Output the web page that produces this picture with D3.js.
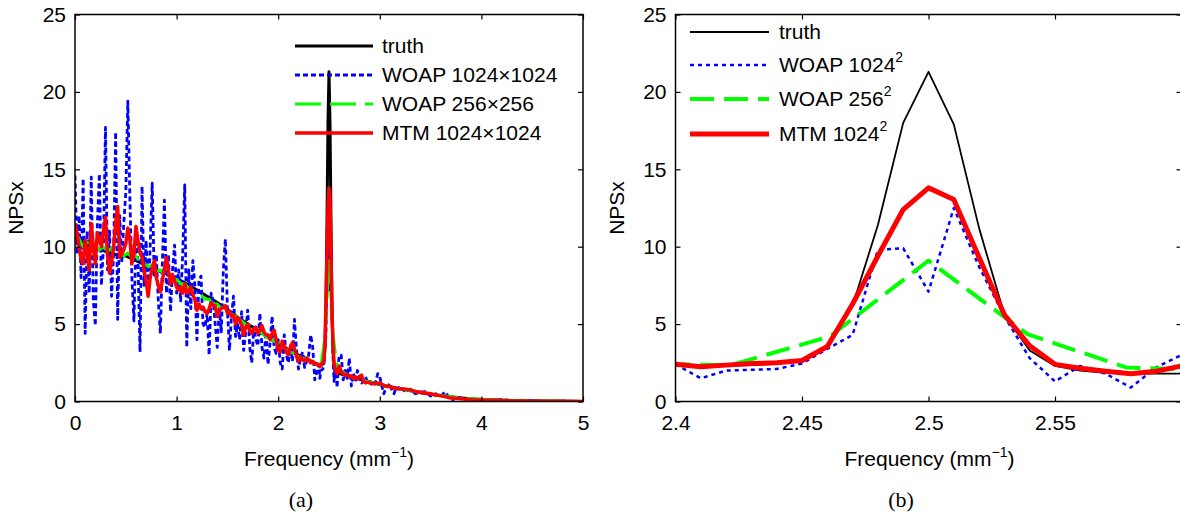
<!DOCTYPE html>
<html>
<head>
<meta charset="utf-8">
<script src="https://cdn.jsdelivr.net/npm/d3@7"></script>
<style>
  body { margin: 0; background: #fff; }
  text { font-family: "Liberation Sans", Arial, Helvetica, sans-serif; fill: #000; }
  .caption { font-family: "Liberation Serif", "DejaVu Serif", serif; }
</style>
</head>
<body>
<svg id="chart" width="1180" height="513"></svg>
<script>
// Data
// ==============================
var legendLeft = ["truth", "WOAP 1024\u00d71024", "WOAP 256\u00d7256", "MTM 1024\u00d71024"];
var legendRight = ["truth", "WOAP 1024", "WOAP 256", "MTM 1024"];
var legendRightSup = ["", "2", "2", "2"];
var yTicks = [0, 5, 10, 15, 20, 25];
var xTicksLeft = [0, 1, 2, 3, 4, 5];
var xTicksRight = [2.4, 2.45, 2.5, 2.55];

// sample grid around the peak (1024 grid, ~0.01 mm^-1)
var peakFreq = d3.range(2.40, 2.605, 0.01);
var truthPeak = [2.35, 2.3, 2.3, 2.35, 2.45, 2.6, 3.6, 6.2, 11.4, 18.0, 21.3, 17.9, 11.2, 5.6, 3.3, 2.3, 2.0, 1.85, 1.8, 1.8, 1.8];
var bluePeak = [2.4, 1.5, 2.0, 2.05, 2.1, 2.45, 3.4, 4.3, 9.8, 9.9, 7.1, 12.5, 8.7, 5.5, 2.8, 1.3, 2.3, 1.8, 0.9, 2.2, 3.0];
var redPeak = [2.4, 2.25, 2.35, 2.45, 2.5, 2.65, 3.55, 6.3, 9.4, 12.4, 13.8, 13.05, 9.3, 5.6, 3.6, 2.4, 2.15, 1.95, 1.8, 1.95, 2.3];
var greenPeakFreq = [2.3828, 2.4219, 2.4609, 2.5, 2.5391, 2.5781, 2.6172];
var greenPeak = [2.45, 2.35, 4.2, 9.1, 4.35, 2.2, 2.0];

// low frequency part
var truthLowFreq = d3.range(0, 2.35, 0.1);
var truthLow = [10.6, 10.2, 9.9, 9.7, 9.5, 9.4, 9.1, 8.8, 8.5, 8.25, 7.95, 7.6, 7.2, 6.8, 6.4, 5.95, 5.45, 5.0, 4.6, 4.15, 3.75, 3.35, 3.0, 2.7];

var lowFreq = d3.range(0, 2.39, 0.02);
var blueLow = [
  14.6, 9.5, 12.0, 8.0, 14.4, 4.4, 11.0, 7.0, 14.5, 6.6,
  4.9, 11.5, 14.7, 7.5, 10.0, 17.7, 8.5, 11.0, 6.8, 9.5,
  17.4, 5.3, 12.0, 9.0, 11.5, 13.5, 19.4, 13.2, 8.0, 5.2,
  10.5, 9.0, 3.2, 13.9, 7.5, 10.4, 7.0, 10.0, 14.1, 8.0,
  9.5, 6.5, 4.4, 9.0, 13.0, 7.0, 9.5, 5.8, 8.5, 10.1,
  7.0, 8.5, 6.5, 9.5, 14.0, 3.5, 8.5, 6.0, 9.1, 7.5,
  4.0, 7.8, 8.1, 5.0, 4.8, 5.7, 3.0, 7.0, 6.5, 5.0,
  3.5, 6.0, 4.5, 8.5, 10.5, 6.0, 3.3, 5.5, 6.8, 4.2,
  5.0, 4.0, 5.8, 3.3, 4.5, 5.9, 3.5, 2.5, 4.8, 4.0,
  3.6, 5.7, 3.5, 2.8, 4.5, 2.4, 3.8, 5.5, 3.5, 3.1,
  4.0, 2.5, 2.1, 4.3, 3.0, 2.5, 3.6, 2.6, 5.3, 3.3,
  2.1, 2.8, 3.2, 2.2, 2.6, 3.0, 4.3, 3.5, 1.4, 1.9
];
var redLow = [
  11.5, 10.9, 10.0, 9.2, 8.9, 10.4, 9.5, 8.5, 11.5, 10.0,
  8.9, 10.9, 10.5, 10.0, 11.0, 11.9, 9.5, 8.3, 9.0, 10.0,
  11.5, 12.6, 9.3, 9.5, 9.8, 10.2, 11.2, 10.5, 8.9, 9.5,
  11.3, 10.4, 9.6, 9.3, 8.5, 7.8, 6.8, 8.0, 8.6, 9.1,
  8.0, 7.5, 7.1, 7.8, 8.6, 9.3, 8.4, 7.6, 8.2, 7.8,
  7.4, 7.2, 7.4, 7.0, 7.6, 7.0, 7.1, 7.4, 6.9, 6.6,
  5.9, 6.3, 6.0, 6.1, 5.8, 5.7, 6.0, 6.4, 6.2, 6.2,
  5.5, 5.9, 6.0, 6.1, 6.2, 5.7, 5.8, 5.5, 5.6, 5.0,
  5.4, 5.3, 4.9, 4.3, 4.8, 5.0, 4.6, 4.4, 4.7, 4.8,
  4.4, 4.6, 4.9, 4.5, 4.3, 4.3, 4.0, 4.4, 4.6, 4.0,
  3.3, 3.2, 3.9, 3.6, 3.2, 3.0, 3.5, 3.8, 3.4, 2.9,
  2.6, 2.9, 2.7, 2.6, 2.8, 2.7, 2.5, 2.6, 2.4, 2.4
];

// 256 grid (~0.04 mm^-1)
var greenLowFreq = d3.range(0, 2.33, 0.04);
var greenLow = [
  11.0, 10.5, 10.0, 10.3, 9.9, 10.1, 9.8, 10.0, 9.7, 9.9,
  9.6, 9.7, 9.4, 9.6, 9.3, 9.4, 9.0, 9.0, 8.7, 8.8,
  8.4, 8.5, 8.2, 8.1, 7.9, 7.9, 7.6, 7.6, 7.3, 7.2,
  7.0, 6.9, 6.6, 6.6, 6.3, 6.3, 6.0, 6.0, 5.7, 5.6,
  5.4, 5.2, 5.0, 4.9, 4.7, 4.6, 4.4, 4.2, 4.0, 3.9,
  3.7, 3.5, 3.4, 3.2, 3.1, 2.9, 2.8, 2.7, 2.6
];

// high frequency tails
var truthTailFreq = [2.7, 2.8, 2.9, 3.0, 3.1, 3.2, 3.3, 3.4, 3.5, 3.6, 3.7, 3.8, 3.9, 4.0, 4.2, 4.4, 4.6, 4.8, 5.0];
var truthTail = [1.65, 1.45, 1.28, 1.1, 0.95, 0.82, 0.7, 0.57, 0.46, 0.37, 0.3, 0.23, 0.17, 0.13, 0.08, 0.05, 0.03, 0.01, 0];

var blueTailFreq = [2.62, 2.64, 2.66, 2.68, 2.70, 2.72, 2.74, 2.76, 2.78, 2.80,
  2.82, 2.84, 2.86, 2.88, 2.90, 2.92, 2.94, 2.96, 2.98, 3.00,
  3.02, 3.04, 3.06, 3.08, 3.10, 3.12, 3.14, 3.16, 3.18, 3.20,
  3.25, 3.30, 3.35, 3.40, 3.45, 3.50, 3.55, 3.60,
  3.64, 3.68, 3.72, 3.76, 3.80,
  3.85, 3.90, 3.95, 4.00,
  4.10, 4.20, 4.30, 4.40, 4.50, 4.60, 4.70, 4.80, 4.90, 5.00];
var blueTail = [3.0, 1.4, 2.0, 1.5, 2.8, 1.0, 1.8, 1.3, 2.0, 1.5,
  1.2, 1.3, 1.6, 1.2, 1.3, 1.1, 1.0, 1.3, 1.8, 1.6,
  1.0, 0.5, 0.9, 1.0, 1.17, 0.7, 0.5, 0.9, 0.8, 1.0,
  0.6, 0.8, 0.5, 0.6, 0.63, 0.35, 0.5, 0.3,
  0.63, 0.3, 0.1, 0.3, 0.2,
  0.1, 0.25, 0.1, 0.15,
  0.05, 0.12, 0.05, 0.08, 0.03, 0.05, 0.02, 0.03, 0.01, 0.0];

var greenTailFreq = [2.66, 2.70, 2.74, 2.8, 2.9, 3.0, 3.1, 3.2, 3.3, 3.4, 3.5, 3.6, 3.7, 3.8, 3.9, 4.0, 4.2, 4.4, 4.6, 4.8, 5.0];
var greenTail = [1.8, 1.65, 1.55, 1.42, 1.27, 1.12, 0.97, 0.83, 0.71, 0.59, 0.48, 0.39, 0.31, 0.24, 0.18, 0.14, 0.09, 0.05, 0.03, 0.015, 0];

var redTailFreq = [2.62, 2.64, 2.66, 2.68, 2.70, 2.72, 2.74, 2.76, 2.78, 2.80, 2.82, 2.84, 2.86, 2.88, 2.90,
  2.95, 3.00, 3.05, 3.10, 3.15, 3.20, 3.25, 3.30, 3.35, 3.40, 3.45, 3.50, 3.55, 3.60, 3.65, 3.70,
  3.80, 3.90, 4.00, 4.20, 4.40, 4.60, 4.80, 5.00];
var redTail = [1.9, 1.8, 1.7, 1.75, 1.6, 1.65, 1.5, 1.6, 1.45, 1.6, 1.7, 1.3, 1.2, 1.25, 1.2,
  1.15, 1.2, 1.0, 0.95, 0.85, 0.8, 0.8, 0.75, 0.65, 0.6, 0.55, 0.5, 0.42, 0.38, 0.3, 0.22,
  0.17, 0.12, 0.1, 0.06, 0.04, 0.02, 0.01, 0.0];

// Helpers
// ==============================
function pts(freq, vals) {
  return freq.map(function(f, i) { return [f, vals[i]]; });
}

var truthAll = pts(truthLowFreq, truthLow).concat(pts(peakFreq, truthPeak), pts(truthTailFreq, truthTail));
var blueAll = pts(lowFreq, blueLow).concat(pts(peakFreq, bluePeak), pts(blueTailFreq, blueTail));
var greenAll = pts(greenLowFreq, greenLow).concat(pts(greenPeakFreq, greenPeak), pts(greenTailFreq, greenTail));
var redAll = pts(lowFreq, redLow).concat(pts(peakFreq, redPeak), pts(redTailFreq, redTail));

var svg = d3.select("#chart");
var fontSize = 21;

function drawPanel(cfg) {
  var x = d3.scaleLinear().domain(cfg.xDomain).range([cfg.left, cfg.left + cfg.width]);
  var y = d3.scaleLinear().domain([0, 25]).range([401.5, 14.5]);
  var g = svg.append("g");

  var clipId = "clip" + cfg.id;
  svg.append("clipPath").attr("id", clipId)
    .append("rect")
    .attr("x", cfg.left).attr("y", 14.5)
    .attr("width", cfg.width).attr("height", 387);

  var line = d3.line().x(d => x(d[0])).y(d => y(d[1]));

  // Step 1: series
  var plot = g.append("g").attr("clip-path", "url(#" + clipId + ")");
  cfg.series.forEach(function(s) {
    plot.append("path")
      .datum(s.data)
      .attr("fill", "none")
      .attr("stroke", s.color)
      .attr("stroke-width", s.width)
      .attr("stroke-dasharray", s.dash)
      .attr("stroke-linejoin", "round")
      .attr("d", line);
  });

  // Step 2: axes box with inward ticks
  g.append("g")
    .attr("transform", "translate(0,401.5)")
    .call(d3.axisBottom(x).tickValues(cfg.xTicks).tickSizeInner(-5).tickSizeOuter(0).tickPadding(14)
      .tickFormat(d3.format("")))
    .call(a => a.select(".domain").remove())
    .call(a => a.selectAll("text").attr("font-size", fontSize).attr("font-family", "Liberation Sans, Arial, sans-serif"));

  g.append("g")
    .attr("transform", "translate(0,14.5)")
    .call(d3.axisTop(x).tickValues(cfg.xTicks).tickSizeInner(-5).tickSizeOuter(0).tickFormat(""))
    .call(a => a.select(".domain").remove());

  g.append("g")
    .attr("transform", "translate(" + cfg.left + ",0)")
    .call(d3.axisLeft(y).tickValues(yTicks).tickSizeInner(-5).tickSizeOuter(0).tickPadding(9))
    .call(a => a.select(".domain").remove())
    .call(a => a.selectAll("text").attr("font-size", fontSize).attr("font-family", "Liberation Sans, Arial, sans-serif"));

  g.append("g")
    .attr("transform", "translate(" + (cfg.left + cfg.width) + ",0)")
    .call(d3.axisRight(y).tickValues(yTicks).tickSizeInner(-5).tickSizeOuter(0).tickFormat(""))
    .call(a => a.select(".domain").remove());

  g.selectAll(".tick line").attr("stroke", "#000").attr("stroke-width", 1.2);

  g.append("rect")
    .attr("x", cfg.left).attr("y", 14.5)
    .attr("width", cfg.width).attr("height", 387)
    .attr("fill", "none").attr("stroke", "#000").attr("stroke-width", 1.5);

  // Step 3: labels
  g.append("text")
    .attr("transform", "translate(" + (cfg.left - 52) + ",208) rotate(-90)")
    .attr("text-anchor", "middle")
    .attr("font-size", fontSize)
    .text("NPSx");

  var xl = g.append("text")
    .attr("x", cfg.left + 254).attr("y", 466)
    .attr("text-anchor", "middle")
    .attr("font-size", fontSize);
  xl.append("tspan").text("Frequency (mm");
  xl.append("tspan").attr("font-size", 14).attr("dy", -9).text("\u22121");
  xl.append("tspan").attr("dy", 9).text(")");

  g.append("text")
    .attr("class", "caption")
    .attr("x", cfg.captionX).attr("y", 507)
    .attr("text-anchor", "middle")
    .attr("font-size", 22)
    .text(cfg.caption);

  // Step 4: legend
  var leg = g.append("g");
  cfg.series.forEach(function(s, i) {
    var ly = cfg.legend.rows[i];
    leg.append("line")
      .attr("x1", cfg.legend.x1).attr("x2", cfg.legend.x2)
      .attr("y1", ly).attr("y2", ly)
      .attr("stroke", s.color)
      .attr("stroke-width", s.width)
      .attr("stroke-dasharray", s.dash);
    var t = leg.append("text")
      .attr("x", cfg.legend.tx).attr("y", ly + 7)
      .attr("font-size", fontSize)
      .text(cfg.legend.labels[i]);
    if (cfg.legend.sup && cfg.legend.sup[i]) {
      t.append("tspan").attr("font-size", 14).attr("dy", -10).text(cfg.legend.sup[i]);
    }
  });
}

// Panel (a)
drawPanel({
  id: "a", left: 75, width: 508, xDomain: [0, 5], xTicks: xTicksLeft,
  caption: "(a)", captionX: 301,
  series: [
    { data: truthAll, color: "#000", width: 3, dash: null },
    { data: blueAll, color: "#0000ff", width: 2.8, dash: "5,3" },
    { data: greenAll, color: "#00ff00", width: 3, dash: "26,9" },
    { data: redAll, color: "#ff0000", width: 3.5, dash: null }
  ],
  legend: { x1: 295, x2: 373, tx: 382, rows: [46, 75, 104, 133], labels: legendLeft, sup: null }
});

// Panel (b)
drawPanel({
  id: "b", left: 675.5, width: 506, xDomain: [2.4, 2.6], xTicks: xTicksRight,
  caption: "(b)", captionX: 901,
  series: [
    { data: pts(peakFreq, truthPeak), color: "#000", width: 1.8, dash: null },
    { data: pts(peakFreq, bluePeak), color: "#0000ff", width: 2.5, dash: "4,4" },
    { data: pts(greenPeakFreq, greenPeak), color: "#00ff00", width: 4, dash: "24,10" },
    { data: pts(peakFreq, redPeak), color: "#ff0000", width: 5, dash: null }
  ],
  legend: { x1: 690, x2: 769, tx: 779, rows: [32, 65, 99, 134], labels: legendRight, sup: legendRightSup }
});
</script>
</body>
</html>
